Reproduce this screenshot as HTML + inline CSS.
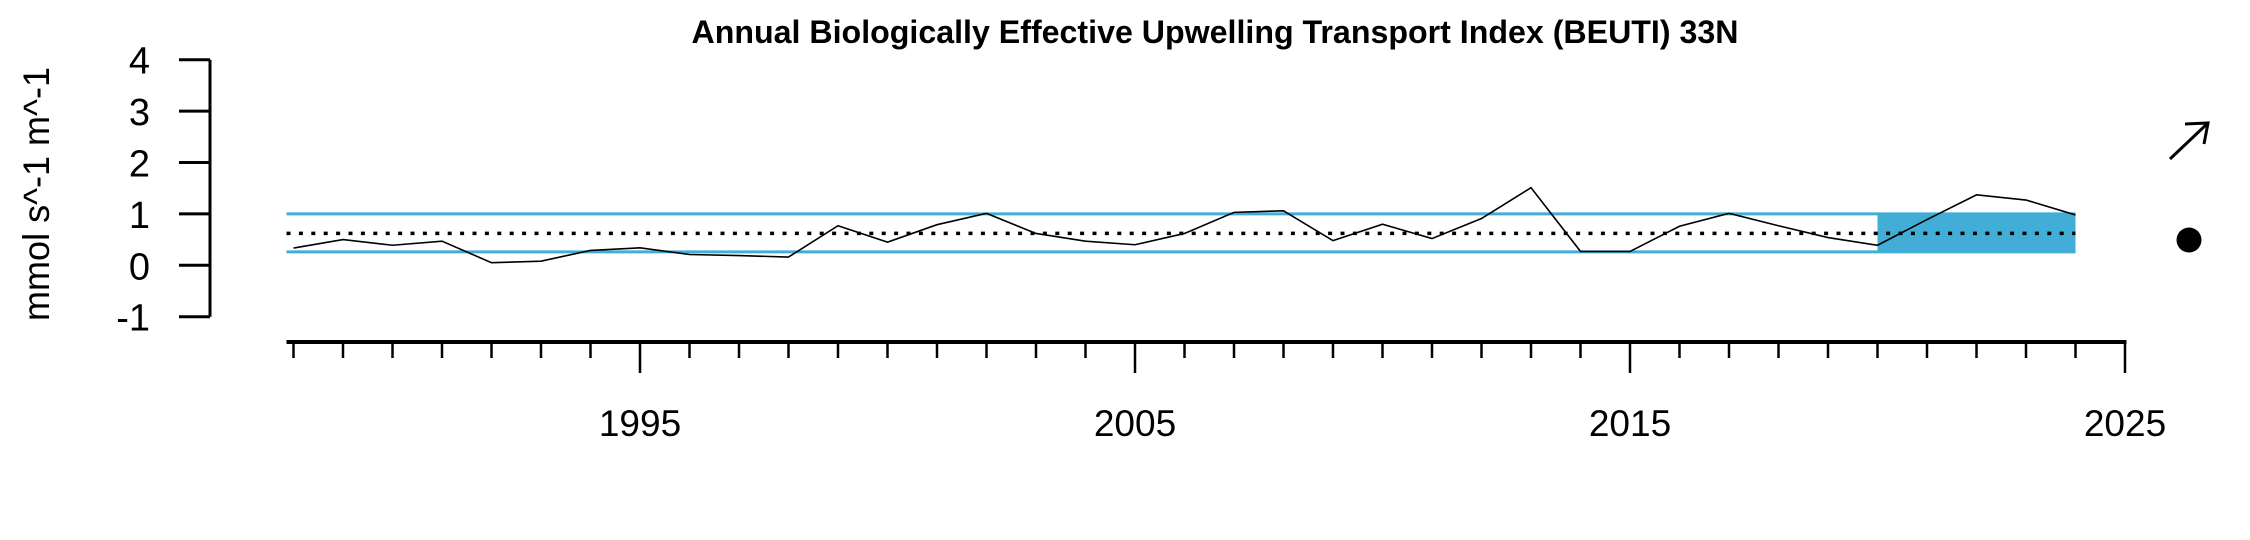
<!DOCTYPE html>
<html><head><meta charset="utf-8"><style>
html,body{margin:0;padding:0;background:#fff;}
svg{display:block;font-family:"Liberation Sans",Arial,sans-serif;}
</style></head><body>
<svg id="chart" width="2250" height="540" viewBox="0 0 2250 540">
<text x="1215" y="43" text-anchor="middle" font-weight="bold" font-size="32" textLength="1047" lengthAdjust="spacingAndGlyphs">Annual Biologically Effective Upwelling Transport Index (BEUTI) 33N</text>
<text transform="translate(49,194) rotate(-90)" text-anchor="middle" font-size="37" textLength="254" lengthAdjust="spacingAndGlyphs">mmol s^-1 m^-1</text>
<g id="yaxis"></g>
<g id="xaxis"></g>
<g id="plot"></g>
<g stroke="#000" stroke-width="3" fill="none">
<line x1="2170" y1="159" x2="2208" y2="123"/><polyline points="2185,124 2208,123 2204,144"/>
</g>
<circle cx="2189" cy="240" r="12.5" fill="#000"/>
</svg>
<script>
const years=[1988,1989,1990,1991,1992,1993,1994,1995,1996,1997,1998,1999,2000,2001,2002,2003,2004,2005,2006,2007,2008,2009,2010,2011,2012,2013,2014,2015,2016,2017,2018,2019,2020,2021,2022,2023,2024];
const values=[0.335,0.50,0.39,0.47,0.05,0.08,0.29,0.34,0.21,0.19,0.16,0.77,0.45,0.79,1.01,0.62,0.47,0.40,0.62,1.03,1.06,0.48,0.80,0.52,0.91,1.51,0.27,0.27,0.76,1.01,0.77,0.54,0.39,0.89,1.37,1.27,0.98];
const meanValue=[0.62];
const sdBand=[0.26,1.0];
const recentRange=[2020,2024];
const yTicks=[-1,0,1,2,3,4];
const xMajor=[1995,2005,2015,2025];
const NS="http://www.w3.org/2000/svg";
const X=y=>640+(y-1995)*49.5;
const Y=v=>265.3-v*51.4;
function mk(tag,attrs,parent){const e=document.createElementNS(NS,tag);for(const k in attrs)e.setAttribute(k,attrs[k]);parent.appendChild(e);return e;}
const ya=document.getElementById('yaxis'),xa=document.getElementById('xaxis'),pl=document.getElementById('plot');
mk('line',{x1:210,y1:Y(yTicks[yTicks.length-1]),x2:210,y2:Y(yTicks[0]),stroke:'#000','stroke-width':3},ya);
yTicks.forEach(t=>{
 const l=mk('line',{x1:179,y1:Y(t),x2:210,y2:Y(t),stroke:'#000','stroke-width':3},ya);
 
 
 const tx=mk('text',{x:150,y:Y(t)+14,'text-anchor':'end','font-size':38},ya);
 tx.textContent=t;
 
 
});
mk('line',{x1:X(1988)-7,y1:342,x2:X(2025)+1.5,y2:342,stroke:'#000','stroke-width':4},xa);
for(let y=1988;y<=2025;y++){
 const maj=xMajor.includes(y);
 const l=mk('line',{x1:X(y),y1:342,x2:X(y),y2:maj?373:358,stroke:'#000','stroke-width':2.5},xa);
 
 
}
xMajor.forEach(y=>{
 const tx=mk('text',{x:X(y),y:436,'text-anchor':'middle','font-size':37},xa);
 tx.textContent=y;
 
 
});
const r=mk('rect',{x:X(recentRange[0]),y:Y(sdBand[1]),width:X(recentRange[1])-X(recentRange[0]),height:Y(sdBand[0])-Y(sdBand[1]),fill:'#42ADD6'},pl);


sdBand.forEach(v=>{
 const l=mk('line',{x1:X(1988)-7,y1:Y(v),x2:X(2024),y2:Y(v),stroke:'#42ADD6','stroke-width':3},pl);
 
 
});
const m=mk('line',{x1:X(1988)-7,y1:Y(meanValue[0]),x2:X(2024),y2:Y(meanValue[0]),stroke:'#000','stroke-width':3.5,'stroke-dasharray':'4 8.4'},pl);


const p=mk('polyline',{points:years.map((y,i)=>X(y)+','+Y(values[i])).join(' '),fill:'none',stroke:'#000','stroke-width':1.6},pl);


</script>
</body></html>
